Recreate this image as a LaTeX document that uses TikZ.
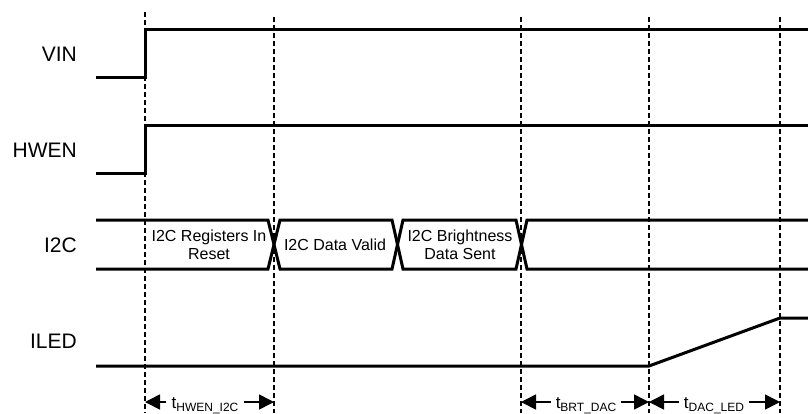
\documentclass[tikz,border=0pt]{standalone}
\usepackage{fontspec}
\setmainfont{Liberation Sans}
\usetikzlibrary{arrows.meta}
\begin{document}
\begin{tikzpicture}[x=1pt,y=-1pt,
  sig/.style={line width=3pt, line join=miter},
  guide/.style={line width=1.1pt, dash pattern=on 5pt off 3pt},
  siglabel/.style={anchor=base east, inner sep=0pt, font=\fontsize{21}{24}\selectfont},
  datalabel/.style={align=center, inner sep=0pt, font=\fontsize{16}{18}\selectfont},
  timelabel/.style={anchor=base, inner xsep=5pt, inner ysep=0pt, font=\fontsize{17}{18}\selectfont},
  dim/.style={line width=1.6pt, -{Triangle[length=15pt,width=15pt]}}
]
\useasboundingbox (0,0) rectangle (808,413);
% guide lines
\coordinate (g1t) at (145,12); \coordinate (g1b) at (145,413);
\coordinate (g2t) at (274,17); \coordinate (g2b) at (274,413);
\coordinate (g3t) at (521,17); \coordinate (g3b) at (521,413);
\coordinate (g4t) at (649,17); \coordinate (g4b) at (649,413);
\coordinate (g5t) at (780,17); \coordinate (g5b) at (780,413);
\foreach \g in {g1,g2,g3,g4,g5} \draw[guide] (\g t) -- (\g b);
% signal labels
\node[siglabel] (vin) at (77,61) {VIN};
\node[siglabel] (hwen) at (77,157) {HWEN};
\node[siglabel] (i2c) at (77,252) {I2C};
\node[siglabel] (iled) at (77,348) {ILED};
% VIN
\draw[sig] (96,77) -- (145,77) -- (145,29) -- (808,29);
% HWEN
\draw[sig] (96,173) -- (145,173) -- (145,125) -- (808,125);
% I2C bus
\draw[sig] (96,220) -- (268,220) -- (280,269) -- (392,269) -- (403,220) -- (516,220) -- (527,269) -- (808,269);
\draw[sig] (96,269) -- (268,269) -- (280,220) -- (392,220) -- (403,269) -- (516,269) -- (527,220) -- (808,220);
\node[datalabel] (reset) at (209,245) {I2C Registers In\\Reset};
\node[datalabel] (valid) at (335,245) {I2C Data Valid};
\node[datalabel] (sent) at (460,245) {I2C Brightness\\Data Sent};
% ILED
\draw[sig] (96,366) -- (649,366) -- (780,318) -- (808,318);
% timing annotations
\coordinate (row) at (0,402);
\node[timelabel] (t1) at (205,408) {t\raisebox{-3pt}{\fontsize{12}{12}\selectfont HWEN\_I2C}};
\node[timelabel] (t2) at (586,408) {t\raisebox{-3pt}{\fontsize{12}{12}\selectfont BRT\_DAC}};
\node[timelabel] (t3) at (714,408) {t\raisebox{-3pt}{\fontsize{12}{12}\selectfont DAC\_LED}};
\draw[dim] (t1.west |- row) -- (g1t |- row);
\draw[dim] (t1.east |- row) -- (g2t |- row);
\draw[dim] (t2.west |- row) -- (g3t |- row);
\draw[dim] (t2.east |- row) -- (g4t |- row);
\draw[dim] (t3.west |- row) -- (g4t |- row);
\draw[dim] (t3.east |- row) -- (g5t |- row);
\end{tikzpicture}
\end{document}
